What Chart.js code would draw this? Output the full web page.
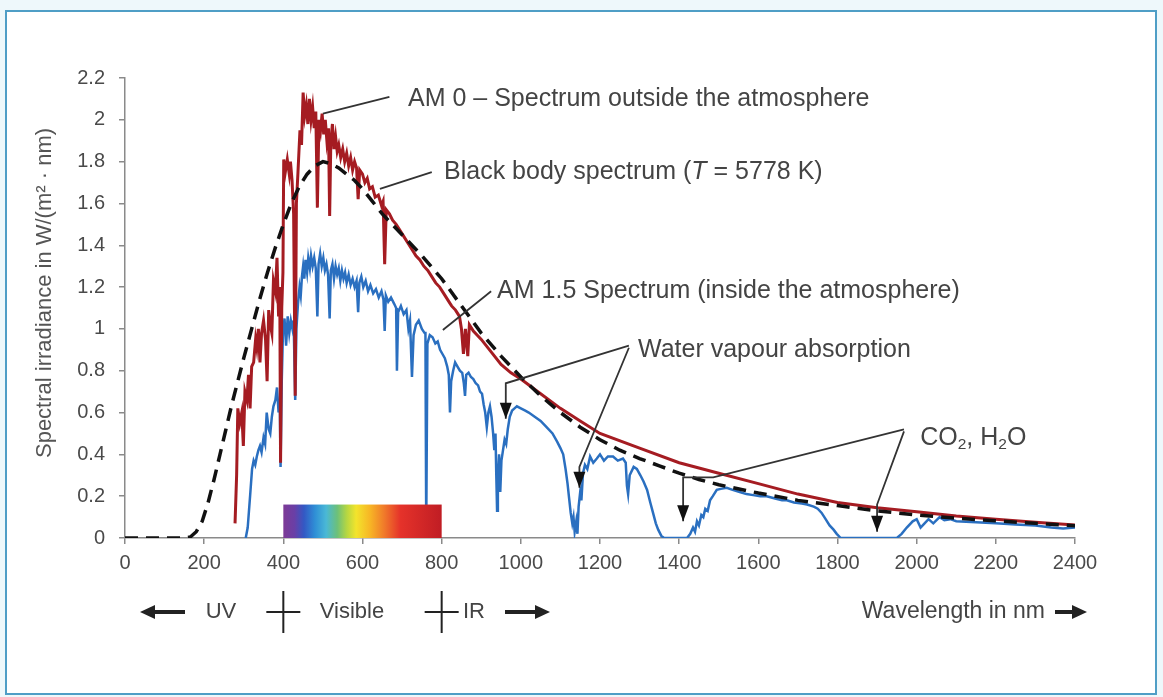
<!DOCTYPE html>
<html>
<head>
<meta charset="utf-8">
<title>Solar spectrum</title>
<script src="https://cdn.jsdelivr.net/npm/chart.js@4.4.1/dist/chart.umd.min.js"></script>
<style>
  html, body { margin: 0; padding: 0; background: #eef8fb; }
  #frame { position: absolute; left: 5px; top: 10px; width: 1148px; height: 681px; border: 2px solid #4f9ec6; background: #fff; }
  #spectrum { position: absolute; left: 0; top: 0; }
</style>
</head>
<body>
<div id="frame"></div>
<canvas id="spectrum" width="1163" height="697"></canvas>
<script>
// wavelengths in nm, irradiance in W/(m2 nm)
const bbWl  = [0, 50, 100, 150, 165, 180, 195, 210, 225, 240, 255, 270, 285, 300, 320, 340, 360, 380, 400, 420, 440, 460, 480, 500, 520, 540, 560, 580, 600, 625, 650, 675, 700, 750, 800, 850, 900, 950, 1000, 1050, 1100, 1150, 1200, 1250, 1300, 1350, 1400, 1450, 1500, 1600, 1700, 1800, 1900, 2000, 2100, 2200, 2300, 2400];
const bbVal = [0, 0, 0, 0, 0.005, 0.03, 0.08, 0.17, 0.28, 0.4, 0.52, 0.64, 0.75, 0.86, 1.0, 1.14, 1.27, 1.39, 1.5, 1.6, 1.68, 1.74, 1.78, 1.8, 1.79, 1.77, 1.74, 1.71, 1.67, 1.61, 1.55, 1.5, 1.45, 1.35, 1.24, 1.11, 0.98, 0.87, 0.77, 0.68, 0.6, 0.53, 0.47, 0.42, 0.38, 0.345, 0.31, 0.28, 0.255, 0.215, 0.18, 0.155, 0.13, 0.11, 0.095, 0.082, 0.07, 0.058];

const am0Wl  = [278, 282, 285, 290, 295, 299, 303, 308, 312, 316, 320, 325, 330, 333, 337, 341, 345, 350, 355, 359, 363, 367, 371, 375, 380, 384, 388, 391, 393, 396, 399, 401, 405, 410, 415, 418, 422, 426, 430, 433, 437, 442, 446, 450, 454, 458, 462, 466, 470, 474, 478, 482, 486, 490, 494, 498, 502, 506, 510, 514, 517, 520, 524, 528, 532, 536, 540, 545, 550, 555, 560, 565, 570, 575, 580, 585, 589, 593, 600, 606, 612, 618, 625, 632, 640, 648, 652, 656, 660, 668, 676, 685, 695, 705, 715, 725, 735, 745, 755, 765, 775, 785, 795, 805, 815, 825, 835, 845, 850, 855, 860, 866, 870, 880, 890, 900, 925, 950, 975, 1000, 1050, 1100, 1150, 1200, 1300, 1400, 1500, 1600, 1700, 1800, 1900, 2000, 2100, 2200, 2300, 2400];
const am0Val = [0.07, 0.3, 0.62, 0.55, 0.6, 0.44, 0.7, 0.66, 0.78, 0.62, 0.82, 0.84, 0.95, 0.91, 1.0, 0.84, 0.98, 1.04, 0.95, 0.75, 1.09, 1.02, 0.98, 1.23, 1.18, 1.34, 1.06, 1.2, 0.36, 1.1, 1.27, 1.81, 1.75, 1.81, 1.74, 1.8, 1.71, 1.55, 0.68, 1.6, 1.75, 1.95, 1.88, 2.13, 2.02, 2.07, 1.98, 2.1, 2.0, 2.06, 1.96, 2.04, 1.58, 2.0, 1.95, 2.03, 1.93, 2.0, 1.9, 1.96, 1.54, 1.9, 1.98, 1.86, 1.92, 1.85, 1.88, 1.82, 1.86, 1.8, 1.84, 1.78, 1.82, 1.76, 1.8, 1.77, 1.62, 1.76, 1.74, 1.7, 1.72, 1.67, 1.68, 1.63, 1.64, 1.59, 1.61, 1.31, 1.57, 1.55, 1.52, 1.5, 1.47, 1.44, 1.41, 1.38, 1.35, 1.33, 1.3, 1.28, 1.25, 1.22, 1.2, 1.17, 1.14, 1.11, 1.09, 1.06, 1.0, 0.88, 1.0, 0.87, 1.02, 0.99, 0.97, 0.95, 0.89, 0.83, 0.79, 0.76, 0.69, 0.62, 0.56, 0.5, 0.43, 0.36, 0.31, 0.26, 0.21, 0.17, 0.145, 0.125, 0.105, 0.09, 0.075, 0.062];

const am15Wl  = [305, 310, 316, 321, 325, 329, 333, 337, 341, 345, 350, 354, 358, 363, 367, 371, 375, 380, 384, 388, 391, 393, 396, 399, 403, 407, 411, 415, 419, 423, 426, 430, 433, 437, 441, 444, 447, 450, 453, 456, 460, 463, 467, 470, 474, 478, 482, 486, 489, 493, 497, 501, 505, 509, 513, 517, 520, 524, 528, 532, 536, 540, 544, 548, 552, 556, 560, 565, 570, 575, 580, 585, 589, 592, 597, 602, 608, 614, 620, 627, 634, 641, 648, 653, 656, 659, 665, 672, 680, 685, 687, 690, 697, 704, 711, 716, 720, 725, 729, 735, 742, 750, 757, 759, 761, 764, 770, 777, 784, 790, 796, 802, 808, 814, 818, 821, 824, 829, 834, 840, 846, 852, 856, 859, 862, 868, 874, 880, 886, 892, 897, 902, 906, 910, 914, 918, 922, 926, 930, 933, 936, 938, 940, 942, 945, 948, 951, 955, 959, 963, 967, 972, 978, 984, 990, 1000, 1010, 1020, 1035, 1050, 1065, 1080, 1092, 1100, 1107, 1113, 1118, 1122, 1126, 1130, 1133, 1136, 1140, 1143, 1146, 1150, 1153, 1157, 1162, 1168, 1175, 1183, 1192, 1200, 1210, 1220, 1233, 1245, 1258, 1265, 1268, 1271, 1275, 1285, 1293, 1302, 1310, 1319, 1327, 1334, 1341, 1347, 1355, 1362, 1420, 1428, 1435, 1440, 1445, 1450, 1456, 1461, 1466, 1472, 1478, 1485, 1495, 1505, 1520, 1535, 1553, 1570, 1587, 1605, 1621, 1640, 1660, 1672, 1690, 1710, 1723, 1740, 1750, 1760, 1770, 1780, 1790, 1798, 1808, 1950, 1962, 1975, 1990, 2000, 2010, 2020, 2030, 2042, 2058, 2070, 2085, 2100, 2150, 2200, 2250, 2300, 2340, 2370, 2400];
const am15Val = [0, 0.05, 0.2, 0.33, 0.37, 0.35, 0.39, 0.42, 0.44, 0.41, 0.48, 0.45, 0.6, 0.52, 0.5, 0.58, 0.63, 0.66, 0.72, 0.6, 0.66, 0.34, 0.75, 0.98, 1.05, 0.92, 1.06, 0.98, 1.04, 1.0, 1.04, 0.66, 1.0, 1.12, 1.2, 1.16, 1.25, 1.3, 1.24, 1.33, 1.27, 1.34, 1.29, 1.35, 1.3, 1.34, 1.29, 1.06, 1.31, 1.36, 1.3, 1.34, 1.28, 1.31, 1.26, 1.05, 1.28, 1.31, 1.24, 1.3, 1.26, 1.29, 1.23, 1.28, 1.24, 1.27, 1.22, 1.26, 1.21, 1.24, 1.2, 1.23, 1.08, 1.22, 1.25, 1.2, 1.23, 1.18, 1.21, 1.17, 1.19, 1.15, 1.18, 1.14, 0.99, 1.16, 1.13, 1.15, 1.12, 1.1, 0.8, 1.08, 1.11, 1.07, 1.09, 1.0, 1.04, 0.77, 0.97, 1.02, 1.04, 1.0, 0.98, 0.98, 0.04, 0.93, 0.97, 0.96, 0.93, 0.94, 0.9, 0.88, 0.86, 0.82, 0.78, 0.6, 0.75, 0.8, 0.84, 0.82, 0.8, 0.79, 0.74, 0.68, 0.78, 0.79, 0.77, 0.76, 0.74, 0.73, 0.7, 0.69, 0.64, 0.6, 0.53, 0.6, 0.63, 0.58, 0.5, 0.42, 0.5, 0.3, 0.13, 0.28, 0.4, 0.22, 0.37, 0.42, 0.47, 0.45, 0.52, 0.58, 0.61, 0.62, 0.63, 0.62, 0.61, 0.6, 0.58, 0.56, 0.53, 0.5, 0.46, 0.43, 0.4, 0.33, 0.26, 0.19, 0.12, 0.07, 0.1, 0.03, 0.08, 0.02, 0.15, 0.22, 0.18, 0.31, 0.35, 0.33, 0.39, 0.36, 0.38, 0.4, 0.37, 0.39, 0.39, 0.37, 0.38, 0.36, 0.25, 0.21, 0.3, 0.34, 0.33, 0.3, 0.27, 0.23, 0.17, 0.12, 0.07, 0.04, 0.01, 0, 0, 0.02, 0.05, 0.03, 0.08, 0.06, 0.11, 0.1, 0.14, 0.13, 0.18, 0.2, 0.23, 0.235, 0.24, 0.23, 0.22, 0.21, 0.205, 0.2, 0.2, 0.19, 0.18, 0.18, 0.17, 0.165, 0.16, 0.15, 0.14, 0.12, 0.09, 0.06, 0.04, 0.02, 0, 0, 0.02, 0.05, 0.08, 0.09, 0.05, 0.07, 0.09, 0.07, 0.1, 0.085, 0.09, 0.08, 0.075, 0.07, 0.065, 0.06, 0.05, 0.045, 0.05];

const xTicks = [0, 200, 400, 600, 800, 1000, 1200, 1400, 1600, 1800, 2000, 2200, 2400];
const yTicks = [0, 0.2, 0.4, 0.6, 0.8, 1, 1.2, 1.4, 1.6, 1.8, 2, 2.2];

// visible band shown as a colour strip under the curves
const visibleFrom = 400;
const visibleTo = 800;
const visibleTop = 0.16;

const FONT = '"Liberation Sans", Arial, Helvetica, sans-serif';
const INK = '#333';
const TEXT = '#444';

function toPoints(xs, ys) {
  return xs.map((x, i) => ({ x: x, y: ys[i] }));
}

// callouts: text anchor and leader paths in data units
const notes = [
  { parts: [{ t: 'AM 0 \u2013 Spectrum outside the atmosphere' }], at: [715, 2.10],
    paths: [{ pts: [[500, 2.03], [668, 2.11]], arrow: false }] },
  { parts: [{ t: 'Black body spectrum (' }, { t: 'T', i: true }, { t: ' = 5778 K)' }], at: [806, 1.75],
    paths: [{ pts: [[644, 1.67], [775, 1.75]], arrow: false }] },
  { parts: [{ t: 'AM 1.5 Spectrum (inside the atmosphere)' }], at: [940, 1.18],
    paths: [{ pts: [[803, 0.995], [925, 1.18]], arrow: false }] },
  { parts: [{ t: 'Water vapour absorption' }], at: [1296, 0.9],
    paths: [{ pts: [[1273, 0.92], [962, 0.74], [962, 0.57]], arrow: true },
            { pts: [[1273, 0.91], [1148, 0.34], [1148, 0.24]], arrow: true }] },
  { parts: [{ t: 'CO' }, { t: '2', sub: true }, { t: ', H' }, { t: '2', sub: true }, { t: 'O' }], at: [2009, 0.48],
    paths: [{ pts: [[1968, 0.52], [1486, 0.29], [1410, 0.29], [1410, 0.08]], arrow: true },
            { pts: [[1968, 0.51], [1900, 0.16], [1900, 0.03]], arrow: true }] }
];

function drawParts(ctx, parts, x, y, size) {
  let cx = x;
  parts.forEach(p => {
    const s = p.sub ? size * 0.62 : size;
    ctx.font = (p.i ? 'italic ' : '') + s + 'px ' + FONT;
    ctx.fillText(p.t, cx, p.sub ? y + size * 0.3 : y);
    cx += ctx.measureText(p.t).width;
  });
}

function arrowHead(ctx, x, y, dir, len, half) {
  // dir: 'down', 'left', 'right'
  ctx.beginPath();
  if (dir === 'down') {
    ctx.moveTo(x, y); ctx.lineTo(x - half, y - len); ctx.lineTo(x + half, y - len);
  } else if (dir === 'left') {
    ctx.moveTo(x, y); ctx.lineTo(x + len, y - half); ctx.lineTo(x + len, y + half);
  } else {
    ctx.moveTo(x, y); ctx.lineTo(x - len, y - half); ctx.lineTo(x - len, y + half);
  }
  ctx.closePath();
  ctx.fill();
}

const decor = {
  id: 'decor',
  afterDatasetsDraw(chart) {
    const { ctx, scales: { x, y } } = chart;
    // colour strip for the visible range
    const x0 = x.getPixelForValue(visibleFrom);
    const x1 = x.getPixelForValue(visibleTo);
    const yb = y.getPixelForValue(0);
    const yt = y.getPixelForValue(visibleTop);
    const g = ctx.createLinearGradient(x0, 0, x1, 0);
    g.addColorStop(0.0, '#7d3a96');
    g.addColorStop(0.07, '#6a3fa6');
    g.addColorStop(0.13, '#3358c4');
    g.addColorStop(0.2, '#2f8fd6');
    g.addColorStop(0.27, '#4ab8d6');
    g.addColorStop(0.34, '#6cc07a');
    g.addColorStop(0.4, '#b5d642');
    g.addColorStop(0.46, '#f3e42c');
    g.addColorStop(0.55, '#f7b425');
    g.addColorStop(0.64, '#f0782a');
    g.addColorStop(0.74, '#e5322a');
    g.addColorStop(1.0, '#c01d24');
    ctx.save();
    ctx.fillStyle = g;
    ctx.fillRect(x0, yt, x1 - x0, yb - yt);
    ctx.restore();
  },
  afterDraw(chart) {
    const { ctx, scales: { x, y }, chartArea } = chart;
    ctx.save();
    ctx.textBaseline = 'middle';
    ctx.textAlign = 'left';

    // callout leaders and labels
    notes.forEach(n => {
      n.paths.forEach(p => {
        const px = p.pts.map(q => [x.getPixelForValue(q[0]), y.getPixelForValue(q[1])]);
        ctx.strokeStyle = INK;
        ctx.fillStyle = '#111';
        ctx.lineWidth = 1.8;
        ctx.beginPath();
        px.forEach((q, k) => k ? ctx.lineTo(q[0], q[1]) : ctx.moveTo(q[0], q[1]));
        ctx.stroke();
        if (p.arrow) {
          const tip = px[px.length - 1];
          arrowHead(ctx, tip[0], tip[1], 'down', 16, 6);
        }
      });
      ctx.fillStyle = TEXT;
      drawParts(ctx, n.parts, x.getPixelForValue(n.at[0]), y.getPixelForValue(n.at[1]), 25);
    });

    // y axis title
    ctx.save();
    ctx.translate(45, 293);
    ctx.rotate(-Math.PI / 2);
    ctx.textAlign = 'center';
    ctx.fillStyle = '#555';
    ctx.font = '22px ' + FONT;
    ctx.fillText('Spectral irradiance in W/(m\u00b2 \u00b7 nm)', 0, 0);
    ctx.restore();

    // band row under the axis
    const by = chartArea.bottom + 74;
    ctx.fillStyle = '#222';
    ctx.strokeStyle = '#222';
    ctx.lineWidth = 4;
    const arrowL = (xa, xb) => {
      ctx.beginPath(); ctx.moveTo(xb, by); ctx.lineTo(xa + 10, by); ctx.stroke();
      arrowHead(ctx, xa, by, 'left', 15, 7);
    };
    const arrowR = (xa, xb) => {
      ctx.beginPath(); ctx.moveTo(xa, by); ctx.lineTo(xb - 10, by); ctx.stroke();
      arrowHead(ctx, xb, by, 'right', 15, 7);
    };
    arrowL(140, 185);
    arrowR(505, 550);
    arrowR(1055, 1087);
    ctx.lineWidth = 2;
    [visibleFrom, visibleTo].forEach(v => {
      const cx = x.getPixelForValue(v);
      ctx.beginPath();
      ctx.moveTo(cx, by - 21); ctx.lineTo(cx, by + 21);
      ctx.moveTo(cx - 17, by); ctx.lineTo(cx + 17, by);
      ctx.stroke();
    });
    ctx.fillStyle = TEXT;
    ctx.font = '22px ' + FONT;
    ctx.textAlign = 'center';
    ctx.fillText('UV', 221, by);
    ctx.fillText('Visible', 352, by);
    ctx.fillText('IR', 474, by);
    ctx.textAlign = 'right';
    ctx.font = '23px ' + FONT;
    ctx.fillText('Wavelength in nm', 1045, by);
    ctx.restore();
  }
};

const axisColor = '#8a8a8a';

new Chart(document.getElementById('spectrum'), {
  type: 'scatter',
  data: {
    datasets: [
      {
        label: 'Black body spectrum (T = 5778 K)',
        data: toPoints(bbWl, bbVal),
        showLine: true,
        borderColor: '#111',
        borderWidth: 3.5,
        borderDash: [13, 8],
        pointRadius: 0,
        order: 0
      },
      {
        label: 'AM 0',
        data: toPoints(am0Wl, am0Val),
        showLine: true,
        borderColor: '#a51c22',
        borderWidth: 3,
        pointRadius: 0,
        order: 1
      },
      {
        label: 'AM 1.5',
        data: toPoints(am15Wl, am15Val),
        showLine: true,
        borderColor: '#2a6fc0',
        borderWidth: 2.5,
        pointRadius: 0,
        order: 2
      }
    ]
  },
  options: {
    responsive: false,
    animation: false,
    layout: { padding: { left: 30, top: 78, right: 88, bottom: 119 } },
    plugins: {
      legend: { display: false },
      tooltip: { enabled: false }
    },
    scales: {
      x: {
        type: 'linear',
        min: 0,
        max: 2400,
        afterBuildTicks: s => { s.ticks = xTicks.map(v => ({ value: v })); },
        afterFit: s => { s.height = 40; },
        grid: { drawOnChartArea: false, tickLength: 6, color: axisColor, lineWidth: 1.5 },
        border: { color: axisColor, width: 1.5 },
        ticks: { font: { size: 20, family: FONT }, color: '#4a4a4a', padding: 7, maxRotation: 0, autoSkip: false, callback: v => String(v) }
      },
      y: {
        min: 0,
        max: 2.2,
        afterBuildTicks: s => { s.ticks = yTicks.map(v => ({ value: v })); },
        afterFit: s => { s.width = 95; },
        grid: { drawOnChartArea: false, tickLength: 6, color: axisColor, lineWidth: 1.5 },
        border: { color: axisColor, width: 1.5 },
        ticks: { font: { size: 20, family: FONT }, color: '#4a4a4a', padding: 14, callback: v => String(v) }
      }
    }
  },
  plugins: [decor]
});
</script>
</body>
</html>
